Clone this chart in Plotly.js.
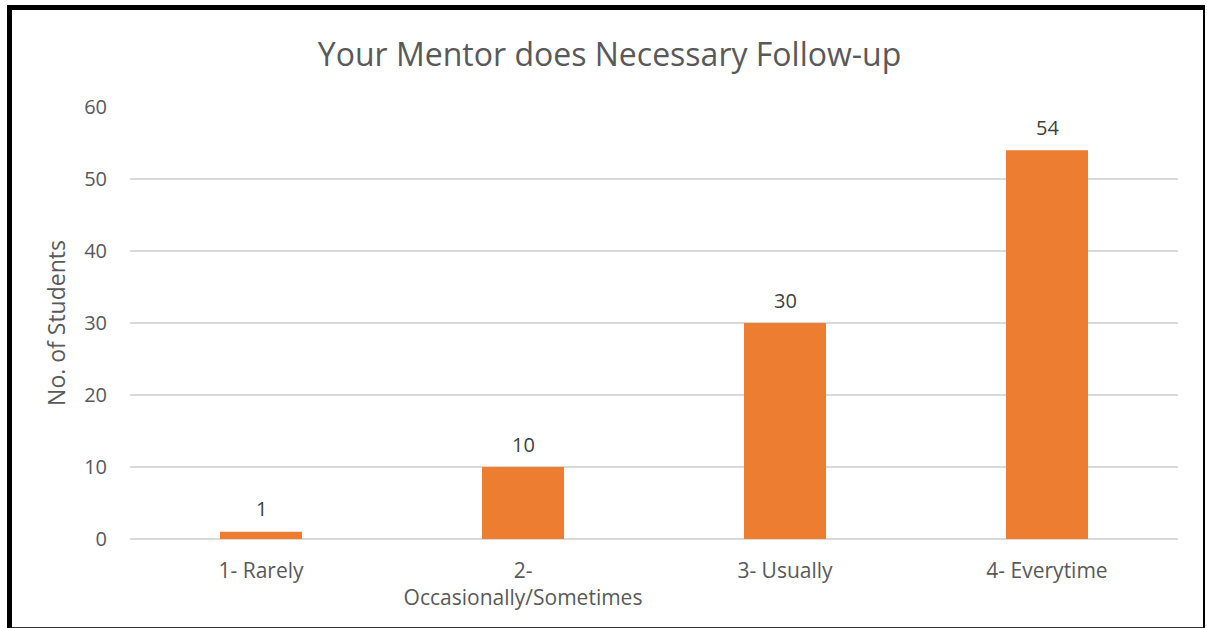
<!DOCTYPE html>
<html>
<head>
<meta charset="utf-8">
<script src="https://cdn.plot.ly/plotly-3.0.1.min.js"></script>
<style>
  html, body { margin: 0; padding: 0; background: #fff; }
  #wrap { position: relative; width: 1207px; height: 628px; }
  #chart { position: absolute; left: 0; top: 0; width: 1207px; height: 628px; }
  #frame { position: absolute; left: 7px; top: 5px; width: 1191px; height: 617px;
           border-top: 5px solid #000; border-left: 5px solid #000;
           border-right: 2px solid #000; border-bottom: 2px solid #333; pointer-events: none; }
</style>
</head>
<body>
<div id="wrap">
  <div id="chart"></div>
  <div id="frame"></div>
</div>
<script>
const categories = ["1- Rarely", "2-<br>Occasionally/Sometimes", "3- Usually", "4- Everytime"];
const students = [1, 10, 30, 54];
const tickVals = [0, 10, 20, 30, 40, 50, 60];

const font = "'Open Sans', 'DejaVu Sans', sans-serif";

const trace = {
  type: "bar",
  x: categories,
  y: students,
  marker: { color: "#ED7D31" },
  hoverinfo: "x+y"
};

const labels = categories.map((c, i) => ({
  x: c,
  y: students[i],
  xref: "x",
  yref: "y",
  text: String(students[i]),
  showarrow: false,
  yanchor: "middle",
  yshift: 23,
  font: { family: font, size: 20, color: "#404040" }
}));

const layout = {
  width: 1207,
  height: 628,
  margin: { l: 130, r: 29, t: 107, b: 89 },
  paper_bgcolor: "#ffffff",
  plot_bgcolor: "#ffffff",
  bargap: 0.687,
  showlegend: false,
  annotations: labels,
  title: {
    text: "Your Mentor does Necessary Follow-up",
    font: { family: font, size: 32, color: "#595959" },
    x: 0.505, xanchor: "center",
    y: 0.912, yanchor: "middle"
  },
  xaxis: {
    type: "category",
    showgrid: false,
    showline: false,
    zeroline: false,
    ticks: "",
    ticklabelstandoff: 17,
    tickfont: { family: font, size: 21, color: "#595959" },
    automargin: false
  },
  yaxis: {
    range: [0, 60],
    tickvals: tickVals,
    showgrid: true,
    gridcolor: "#d9d9d9",
    gridwidth: 1.5,
    zeroline: true,
    zerolinecolor: "#d9d9d9",
    zerolinewidth: 1.5,
    showline: false,
    ticks: "",
    ticklabelstandoff: 22,
    tickfont: { family: font, size: 20, color: "#595959" },
    title: {
      text: "No. of Students",
      font: { family: font, size: 23, color: "#595959" },
      standoff: 12
    },
    automargin: false
  }
};

Plotly.newPlot("chart", [trace], layout, { displayModeBar: false });
</script>
</body>
</html>
